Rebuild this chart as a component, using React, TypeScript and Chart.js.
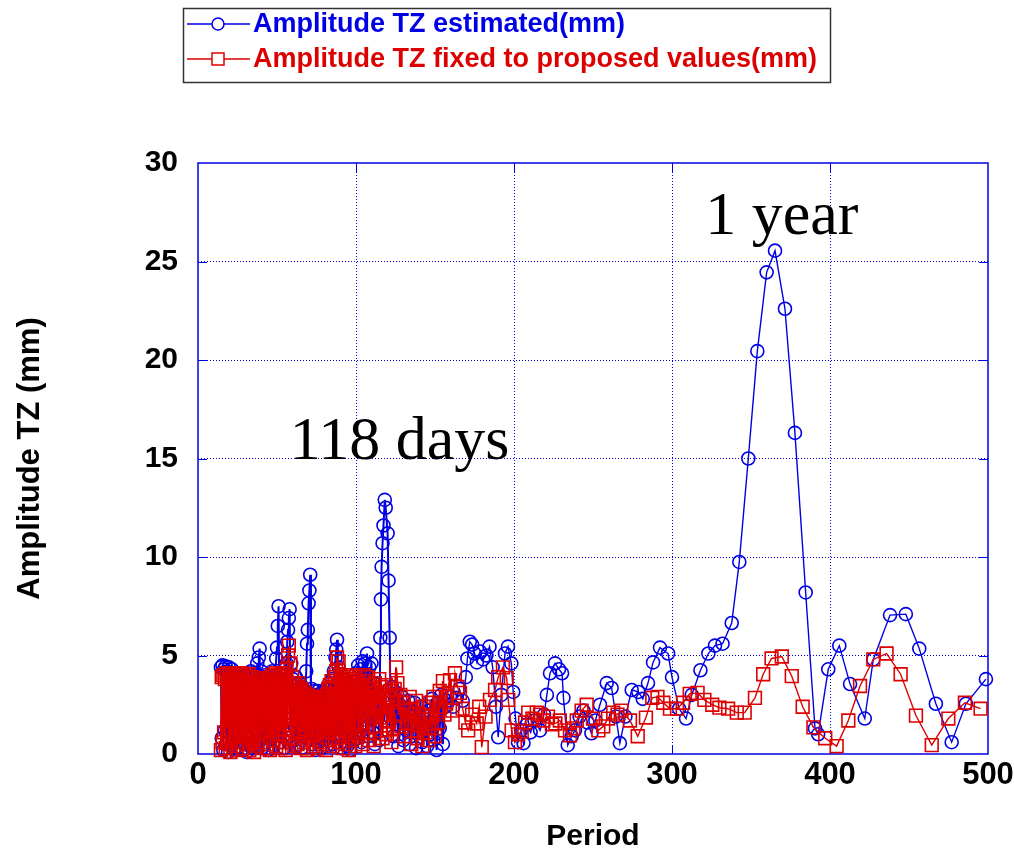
import { useEffect, useRef } from "react";
import { Chart, registerables } from "chart.js";

Chart.register(...registerables);

// Dense part of the spectrum (short periods), shared period grid
const densePeriod = [
  14.5, 15, 15.5, 16, 16.5, 17, 17.5, 18, 18.5, 19,
  19.5, 20, 20.5, 21, 21.5, 22, 22.5, 23, 23.5, 24,
  24.5, 25, 25.5, 26, 26.5, 27, 27.5, 28, 28.5, 29,
  29.5, 30, 30.5, 31, 31.5, 32, 32.5, 33, 33.5, 34,
  34.5, 35, 35.5, 36, 36.5, 37, 37.5, 38, 38.5, 39,
  39.5, 40, 40.5, 41, 41.5, 42, 42.5, 43, 43.5, 44,
  44.5, 45, 45.5, 46, 46.5, 47, 47.5, 48, 48.5, 49,
  49.5, 50, 50.5, 51, 51.5, 52, 52.5, 53, 53.5, 54,
  54.5, 55, 55.5, 56, 56.5, 57, 57.5, 58, 58.5, 59,
  59.5, 60, 60.5, 61, 61.5, 62, 62.5, 63, 63.5, 64,
  64.5, 65, 65.5, 66, 66.5, 67, 67.5, 68, 68.5, 69,
  69.5, 70, 70.5, 71, 71.5, 72, 72.5, 73, 73.5, 74,
  74.5, 75, 75.5, 76, 76.5, 77, 77.5, 78, 78.5, 79,
  79.5, 80, 80.5, 81, 81.5, 82, 82.5, 83, 83.5, 84,
  84.5, 85, 85.5, 86, 86.5, 87, 87.5, 88, 88.5, 89,
  89.5, 90, 90.5, 91, 91.5, 92, 92.5, 93, 93.5, 94,
  94.5, 95, 95.5, 96, 96.5, 97, 97.5, 98, 98.5, 99,
  99.5, 100,
];

// Amplitude TZ estimated (mm) on the dense grid
const estDense = [
  4.4, 0.8, 4.5, 0.2, 4.3, 1.2, 4.45, 0.5, 4.2, 0.1,
  4.4, 1.5, 4.1, 0.4, 4.3, 0.9, 3.9, 0.2, 4.1, 1.1,
  3.9, 0.3, 4.0, 1.6, 3.8, 0.6, 4.1, 0.2, 3.9, 1.3,
  4.0, 0.5, 3.8, 0.1, 4.1, 1.8, 3.9, 0.7, 4.2, 0.3,
  3.9, 1.0, 4.1, 0.4, 4.0, 1.4, 4.6, 0.6, 4.9, 5.35,
  1.2, 4.2, 0.3, 3.9, 1.7, 4.0, 0.5, 3.7, 1.1, 3.9,
  0.2, 3.7, 1.9, 3.8, 0.8, 4.2, 0.4, 3.9, 1.5, 4.0,
  4.85, 5.4, 6.5, 7.5, 2.1, 4.0, 0.6, 4.1, 1.3, 3.8,
  0.3, 4.3, 1.0, 4.6, 5.7, 6.3, 6.9, 7.35, 2.4, 4.6,
  0.7, 3.8, 1.6, 3.6, 0.4, 3.9, 1.2, 3.5, 0.5, 3.6,
  1.8, 3.3, 0.3, 3.4, 1.1, 3.1, 0.6, 3.2, 4.2, 5.6,
  6.3, 7.65, 8.3, 9.1, 2.2, 3.3, 0.5, 3.0, 1.3, 3.2,
  0.2, 2.9, 1.7, 3.2, 0.6, 2.9, 1.0, 3.1, 0.3, 2.8,
  1.5, 3.0, 0.8, 3.3, 0.4, 3.1, 1.9, 3.6, 0.7, 3.4,
  1.2, 3.8, 0.5, 4.2, 1.6, 4.9, 5.3, 5.8, 2.3, 4.4,
  0.9, 3.7, 0.3, 3.5, 1.4, 3.8, 0.6, 3.4, 1.8, 3.6,
  0.4, 3.3, 1.1, 3.6, 0.2, 3.2, 1.5, 3.7, 0.7, 3.4,
  1.3, 4.1,
];

// Amplitude TZ fixed to proposed values (mm) on the dense grid
const fixDense = [
  0.2, 3.9, 0.6, 4.0, 1.1, 3.8, 0.3, 4.1, 1.4, 3.7,
  0.5, 4.0, 0.1, 3.8, 1.7, 4.1, 0.4, 3.6, 0.9, 3.9,
  0.2, 4.0, 1.3, 3.7, 0.6, 4.1, 1.9, 3.8, 0.3, 3.5,
  1.0, 4.0, 0.5, 3.6, 1.6, 4.05, 0.2, 3.7, 1.2, 3.9,
  0.7, 3.5, 0.1, 3.85, 1.5, 3.7, 0.4, 3.8, 1.8, 3.6,
  0.6, 3.85, 1.1, 3.5, 0.3, 3.8, 1.4, 3.4, 0.5, 3.7,
  1.9, 3.6, 0.2, 3.9, 1.2, 4.0, 0.7, 3.7, 1.6, 4.1,
  0.4, 3.8, 1.0, 4.0, 0.3, 3.6, 1.7, 4.1, 0.6, 3.5,
  1.3, 3.9, 0.2, 4.3, 1.5, 5.0, 5.5, 1.9, 4.6, 0.8,
  3.9, 1.2, 3.5, 0.4, 3.6, 1.6, 3.4, 0.5, 3.6, 1.1,
  3.2, 0.3, 3.3, 1.8, 3.0, 0.6, 3.1, 1.3, 2.9, 0.2,
  3.0, 1.5, 2.8, 0.7, 2.9, 1.0, 2.7, 0.4, 2.9, 1.7,
  2.8, 0.3, 2.6, 1.2, 2.8, 0.6, 2.7, 1.9, 2.9, 0.5,
  2.6, 1.4, 2.8, 0.2, 3.0, 1.1, 3.3, 0.7, 3.5, 1.6,
  3.7, 0.4, 3.4, 1.3, 3.9, 0.8, 4.2, 4.9, 1.5, 4.7,
  0.6, 4.0, 1.8, 3.8, 0.3, 3.9, 1.2, 3.6, 0.5, 3.8,
  1.6, 3.5, 0.2, 3.9, 1.0, 3.7, 0.7, 4.0, 1.4, 3.5,
  0.4, 3.8,
];

// Longer periods: [period, amplitude estimated (mm)]
const estTail: [number, number][] = [
  [100.7, 0.8], [101.4, 4.5], [102.1, 1.9], [102.8, 4.3], [103.5, 0.6], [104.2, 4.7],
  [104.9, 2.4], [105.6, 4.6], [106.3, 1.3], [107, 5.1], [107.7, 0.9], [108.4, 4.4],
  [109.1, 2.8], [109.8, 4.6], [110.5, 1.1], [111.2, 3.6], [111.9, 0.5], [112.6, 3.3],
  [113.3, 1.7], [114, 2.9], [114.7, 0.7], [115.4, 5.9], [115.8, 7.85], [116.2, 9.5],
  [116.8, 10.7], [117.4, 11.6], [118.2, 12.9], [118.8, 12.5], [120, 11.2], [120.6, 8.8],
  [121.3, 5.9], [122, 1.8], [122.8, 3.4], [123.6, 0.9], [124.4, 2.9], [125.2, 1.5],
  [126, 3.1], [126.8, 0.4], [127.6, 2.5], [128.4, 1.8], [129.2, 2.9], [130, 0.7],
  [131, 2.3], [132, 1.2], [133, 2.7], [134, 0.5], [135, 2.0], [136, 1.4],
  [137, 2.6], [138, 0.3], [139, 1.9], [140, 1.1], [141, 2.4], [142, 0.6],
  [143, 2.1], [144, 1.6], [145, 0.4], [146, 2.2], [147, 1.0], [148, 2.8],
  [149, 0.7], [150, 1.9], [151, 0.2], [152, 2.6], [153, 1.3], [154, 3.0],
  [155, 0.5], [156, 2.4], [157.5, 2.7], [159.5, 2.9], [161.5, 2.4], [163.5, 2.85],
  [165.5, 3.3], [167.5, 2.7], [169.5, 3.9], [170.5, 4.85], [172, 5.7], [173.5, 5.55],
  [175, 5.1], [176.5, 4.65], [178.5, 5.2], [180.5, 4.8], [182.5, 5.0], [184.5, 5.45],
  [186.5, 4.4], [188.5, 2.4], [190, 0.85], [192, 3.0], [194.3, 5.1], [196.2, 5.45],
  [198.3, 4.6], [199.5, 3.15], [201, 1.8], [202.5, 0.6], [204.5, 1.2], [206, 0.55],
  [208, 1.5], [210.5, 1.1], [213, 1.7], [216.5, 1.2], [219, 2.0], [220.8, 3.0],
  [222.8, 4.1], [226, 4.6], [228.5, 4.3], [230.4, 4.1], [231.3, 2.85], [234, 0.45],
  [236.5, 0.9], [238.6, 1.2], [241.5, 1.9], [244, 2.2], [246.5, 1.6], [249, 1.05],
  [251.5, 1.7], [254.4, 2.5], [258.7, 3.6], [261.8, 3.35], [264.5, 1.9], [267, 0.55],
  [270.5, 1.9], [274.5, 3.25], [278.7, 3.15], [281.5, 2.8], [284.8, 3.6], [288, 4.65],
  [292.4, 5.4], [297.5, 5.1], [300, 3.9], [304.5, 2.3], [308.9, 1.8], [312.5, 3.0],
  [318, 4.25], [323, 5.1], [327.2, 5.5], [332, 5.6], [337.8, 6.65], [342.6, 9.75],
  [348.3, 15.0], [354, 20.45], [359.9, 24.45], [365.2, 25.55], [371.5, 22.6], [377.8, 16.3],
  [384.6, 8.2], [390.5, 1.3], [392.5, 1.0], [398.9, 4.3], [405.9, 5.5], [412.7, 3.55],
  [422, 1.8], [427.4, 4.8], [438, 7.05], [448, 7.1], [456.5, 5.35], [467, 2.55],
  [477, 0.6], [486, 2.55], [498.7, 3.8],
];

// Longer periods: [period, amplitude fixed to proposed values (mm)]
const fixTail: [number, number][] = [
  [100.7, 3.6], [101.4, 0.9], [102.1, 3.9], [102.8, 1.6], [103.5, 3.4], [104.2, 0.5],
  [104.9, 4.0], [105.6, 2.2], [106.3, 3.7], [107, 1.1], [107.7, 3.9], [108.4, 0.7],
  [109.1, 3.5], [109.8, 1.9], [110.5, 3.3], [111.2, 0.4], [111.9, 3.6], [112.6, 1.4],
  [113.3, 3.1], [114, 2.5], [114.7, 3.8], [115.4, 1.2], [116.1, 3.4], [116.8, 0.8],
  [117.5, 3.0], [118.2, 2.0], [118.9, 3.5], [119.6, 1.0], [120.3, 2.6], [121, 1.7],
  [121.7, 3.2], [122.4, 0.6], [123.1, 2.8], [123.8, 1.3], [124.5, 3.3], [125.4, 4.4],
  [126.2, 3.6], [127, 2.0], [128, 3.0], [129, 1.4], [130, 2.6], [131, 0.9],
  [132, 2.2], [133, 1.6], [134, 2.9], [135, 0.5], [136, 2.3], [137, 1.2],
  [138, 2.7], [139, 0.8], [140, 2.0], [141, 1.5], [142, 0.4], [143, 2.4],
  [144, 1.1], [145, 1.9], [146, 0.7], [147, 2.6], [148, 1.3], [149, 2.9],
  [150, 0.9], [151, 2.1], [152, 1.6], [153, 3.2], [154, 2.4], [155, 3.7],
  [156, 2.0], [157.5, 2.9], [159.5, 3.75], [161, 2.2], [162.6, 4.1], [164.2, 3.4],
  [165.8, 3.1], [167.5, 2.3], [169.2, 1.6], [171, 1.2], [173.5, 2.0], [176.4, 1.55],
  [178, 2.4], [179.6, 0.35], [182, 1.9], [184.8, 2.75], [188, 3.25], [190, 3.9],
  [193, 4.4], [195.4, 3.85], [196.4, 2.75], [198.5, 1.2], [200.6, 0.6], [202.6, 1.0],
  [204.9, 1.15], [207, 1.6], [209, 2.1], [211.6, 1.8], [214.4, 2.1], [216.5, 2.0],
  [218.6, 1.7], [221.5, 1.9], [224, 1.5], [226.2, 1.55], [229, 1.7], [232.3, 1.2],
  [235.4, 0.95], [237.6, 1.3], [239.7, 1.7], [242.8, 2.2], [246, 2.5], [250, 1.8],
  [253.4, 1.2], [256.5, 1.4], [259.5, 1.8], [262.8, 2.1], [265.5, 2.0], [268, 2.2],
  [273.4, 1.7], [278.3, 0.9], [283.5, 1.85], [287.5, 2.85], [290.8, 2.9], [294.5, 2.6],
  [298.7, 2.3], [303.2, 2.3], [307, 2.6], [311.2, 3.05], [316.2, 3.1], [320.5, 2.75],
  [325.5, 2.5], [330, 2.35], [335.5, 2.3], [341, 2.1], [346, 2.1], [352.5, 2.85],
  [357.7, 4.05], [363, 4.85], [369.5, 4.95], [375.8, 3.95], [382.7, 2.4], [389.5, 1.35],
  [397, 0.8], [404.2, 0.4], [411.6, 1.7], [419, 3.45], [427.4, 4.8], [435.8, 5.1],
  [444.7, 4.05], [454.4, 1.95], [464.4, 0.45], [474.9, 1.8], [485.4, 2.6], [495.3, 2.3],
];

const xTicks = [0, 100, 200, 300, 400, 500];
const yTicks = [0, 5, 10, 15, 20, 25, 30];

// Text labels placed at data coordinates [period, amplitude] (left / baseline)
const notes: { text: string; at: [number, number] }[] = [
  { text: "118 days", at: [58, 15.0] },
  { text: "1 year", at: [321, 26.4] },
];

const BLUE = "#0000e6";
const RED = "#dd0000";
const SANS = '"Liberation Sans", Arial, sans-serif';
const SERIF = '"Liberation Serif", "Times New Roman", serif';

const toPoints = (px: number[], py: number[], tail: [number, number][]) =>
  px.map((x, i) => ({ x, y: py[i] })).concat(tail.map(([x, y]) => ({ x, y })));

// Thicker strokes where the samples are packed tightly, thinner elsewhere
const segWidth = (c: any) => (c.p0.parsed.x < 160 ? 2 : 1.4);

const framePlugin = {
  id: "frame",
  beforeDatasetsDraw(chart: any) {
    const { ctx, chartArea, scales } = chart;
    const { left, right, top, bottom } = chartArea;
    ctx.save();
    ctx.strokeStyle = BLUE;
    ctx.lineWidth = 1.5;
    ctx.strokeRect(left, top, right - left, bottom - top);
    ctx.lineWidth = 1;
    ctx.beginPath();
    xTicks.slice(1, -1).forEach((v) => {
      const px = Math.round(scales.x.getPixelForValue(v)) + 0.5;
      ctx.moveTo(px, bottom);
      ctx.lineTo(px, bottom - 9);
      ctx.moveTo(px, top);
      ctx.lineTo(px, top + 9);
    });
    yTicks.slice(1, -1).forEach((v) => {
      const py = Math.round(scales.y.getPixelForValue(v)) + 0.5;
      ctx.moveTo(left, py);
      ctx.lineTo(left + 9, py);
      ctx.moveTo(right, py);
      ctx.lineTo(right - 9, py);
    });
    ctx.stroke();
    ctx.restore();
  },
};

const overlayPlugin = {
  id: "overlay",
  afterDraw(chart: any) {
    const { ctx, scales } = chart;
    ctx.save();
    // legend box
    ctx.strokeStyle = "#333333";
    ctx.lineWidth = 1.5;
    ctx.strokeRect(183.5, 8.5, 647, 74);
    const rows = [24, 59];
    chart.data.datasets.forEach((ds: any, i: number) => {
      const y = rows[i];
      ctx.strokeStyle = ds.borderColor;
      ctx.lineWidth = 1.5;
      ctx.beginPath();
      ctx.moveTo(187, y);
      ctx.lineTo(250, y);
      ctx.stroke();
      ctx.beginPath();
      if (ds.pointStyle === "rect") {
        ctx.rect(212, y - 6, 12, 12);
      } else {
        ctx.arc(218, y, 6, 0, Math.PI * 2);
      }
      ctx.fillStyle = "#ffffff";
      ctx.fill();
      ctx.stroke();
      ctx.fillStyle = ds.borderColor;
      ctx.font = `bold 27px ${SANS}`;
      ctx.textBaseline = "middle";
      ctx.textAlign = "left";
      ctx.fillText(ds.label, 253, y + 1);
    });
    // period labels
    ctx.fillStyle = "#000000";
    ctx.font = `62px ${SERIF}`;
    ctx.textBaseline = "alphabetic";
    notes.forEach((n) => {
      ctx.fillText(n.text, scales.x.getPixelForValue(n.at[0]), scales.y.getPixelForValue(n.at[1]));
    });
    ctx.restore();
  },
};

export default function App() {
  const ref = useRef<HTMLCanvasElement>(null);

  useEffect(() => {
    if (!ref.current) return;
    const gridColor = (edges: number[]) => (c: any) =>
      c.tick && edges.includes(c.tick.value) ? "rgba(0,0,0,0)" : BLUE;

    const chart = new Chart(ref.current, {
      type: "line",
      data: {
        datasets: [
          {
            label: "Amplitude TZ estimated(mm)",
            data: toPoints(densePeriod, estDense, estTail),
            borderColor: BLUE,
            backgroundColor: "transparent",
            borderWidth: 1.5,
            segment: { borderWidth: segWidth },
            pointStyle: "circle",
            pointRadius: 6.5,
            pointBorderWidth: 1.6,
            pointBorderColor: BLUE,
            pointBackgroundColor: "transparent",
            tension: 0,
            fill: false,
            clip: false as any,
            order: 1,
          },
          {
            label: "Amplitude TZ fixed to proposed values(mm)",
            data: toPoints(densePeriod, fixDense, fixTail),
            borderColor: RED,
            backgroundColor: "transparent",
            borderWidth: 1.5,
            segment: { borderWidth: segWidth },
            pointStyle: "rect",
            pointRadius: 9,
            pointBorderWidth: 1.6,
            pointBorderColor: RED,
            pointBackgroundColor: "transparent",
            tension: 0,
            fill: false,
            clip: false as any,
            order: 0,
          },
        ],
      },
      options: {
        animation: false,
        responsive: false,
        devicePixelRatio: 1,
        layout: { padding: { top: 163, right: 26, left: 0, bottom: 0 } },
        plugins: { legend: { display: false }, tooltip: { enabled: false } },
        events: [],
        scales: {
          x: {
            type: "linear",
            min: 0,
            max: 500,
            afterBuildTicks: (s: any) => {
              s.ticks = xTicks.map((value) => ({ value }));
            },
            afterFit: (s: any) => {
              s.height = 97;
              s.paddingLeft = 0;
              s.paddingRight = 0;
            },
            ticks: {
              color: "#000000",
              font: { family: SANS, size: 31, weight: "bold" },
              padding: 3,
              maxRotation: 0,
              autoSkip: false,
            },
            grid: { color: gridColor([0, 500]), lineWidth: 1, drawTicks: false },
            border: { display: false, dash: [1, 2] },
            title: {
              display: true,
              text: "Period",
              color: "#000000",
              font: { family: SANS, size: 30, weight: "bold", lineHeight: 1 },
              padding: { top: 0, bottom: -1 },
            },
          },
          y: {
            type: "linear",
            min: 0,
            max: 30,
            afterBuildTicks: (s: any) => {
              s.ticks = yTicks.map((value) => ({ value }));
            },
            afterFit: (s: any) => {
              s.width = 198;
            },
            ticks: {
              color: "#000000",
              font: { family: SANS, size: 30, weight: "bold" },
              padding: 20,
            },
            grid: { color: gridColor([0, 30]), lineWidth: 1, drawTicks: false },
            border: { display: false, dash: [1, 2] },
            title: {
              display: true,
              text: "Amplitude TZ (mm)",
              color: "#000000",
              font: { family: SANS, size: 31, weight: "bold", lineHeight: 1 },
              padding: { top: 14.5, bottom: 0 },
            },
          },
        },
      },
      plugins: [framePlugin, overlayPlugin],
    } as any);
    return () => chart.destroy();
  }, []);

  return (
    <div style={{ position: "absolute", left: 0, top: 0, width: 1014, height: 851, background: "#ffffff" }}>
      <canvas ref={ref} width={1014} height={851} style={{ display: "block", width: 1014, height: 851 }} />
    </div>
  );
}
